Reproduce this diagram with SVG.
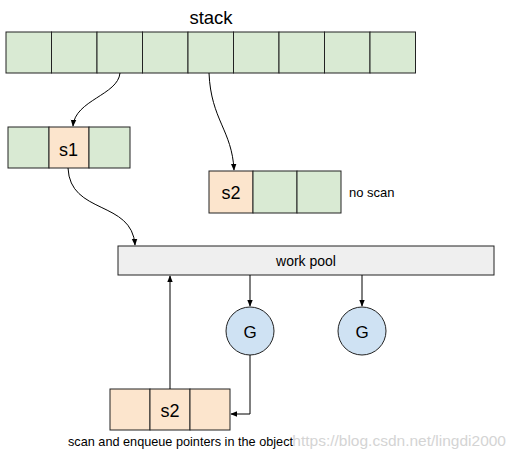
<svg xmlns="http://www.w3.org/2000/svg" width="515" height="453" viewBox="0 0 515 453">
<defs>
<style>
.g{fill:#d9ead3;stroke:#222;stroke-width:1}
.o{fill:#fce5cd;stroke:#222;stroke-width:1}
.c{fill:#cfe2f3;stroke:#222;stroke-width:1}
.p{fill:#efefef;stroke:#222;stroke-width:1}
.t{font-family:"Liberation Sans",Arial,sans-serif;fill:#000}
.e{fill:none;stroke:#000;stroke-width:1;marker-end:url(#a)}
</style>
<marker id="a" viewBox="0 0 10 10" refX="9" refY="5" markerWidth="7" markerHeight="7" orient="auto" markerUnits="userSpaceOnUse">
<path d="M0,1 L10,5 L0,9 z" fill="#000"/>
</marker>
</defs>
<rect width="515" height="453" fill="#fff"/>
<g id="stack">
<text class="t" x="211" y="24" font-size="18.5" text-anchor="middle">stack</text>
<rect class="g" x="6" y="32" width="45.5" height="41"/>
<rect class="g" x="51.5" y="32" width="45.5" height="41"/>
<rect class="g" x="97" y="32" width="45.5" height="41"/>
<rect class="g" x="142.5" y="32" width="45.5" height="41"/>
<rect class="g" x="188" y="32" width="45.5" height="41"/>
<rect class="g" x="233.5" y="32" width="45.5" height="41"/>
<rect class="g" x="279" y="32" width="45.5" height="41"/>
<rect class="g" x="324.5" y="32" width="45.5" height="41"/>
<rect class="g" x="370" y="32" width="45.5" height="41"/>
</g>
<g id="s1obj">
<rect class="g" x="8" y="127" width="41" height="41"/>
<rect class="o" x="49" y="127" width="40" height="41"/>
<rect class="g" x="89" y="127" width="41" height="41"/>
<text class="t" x="68.5" y="156" font-size="18" text-anchor="middle">s1</text>
</g>
<g id="s2obj">
<rect class="o" x="209" y="171" width="44" height="42"/>
<rect class="g" x="253" y="171" width="44" height="42"/>
<rect class="g" x="297" y="171" width="44" height="42"/>
<text class="t" x="231" y="199" font-size="18" text-anchor="middle">s2</text>
<text class="t" x="349" y="197" font-size="13">no scan</text>
</g>
<g id="workpool">
<rect class="p" x="118" y="246" width="376" height="29"/>
<text class="t" x="306" y="266" font-size="14" text-anchor="middle">work pool</text>
</g>
<g id="G1">
<circle class="c" cx="250" cy="331" r="24"/>
<text class="t" x="250" y="338" font-size="17" text-anchor="middle">G</text>
</g>
<g id="G2">
<circle class="c" cx="362" cy="331" r="24"/>
<text class="t" x="362" y="338" font-size="17" text-anchor="middle">G</text>
</g>
<g id="s2scan">
<rect class="o" x="110" y="389" width="40" height="41"/>
<rect class="o" x="150" y="389" width="40" height="41"/>
<rect class="o" x="190" y="389" width="40" height="41"/>
<text class="t" x="170" y="417" font-size="18" text-anchor="middle">s2</text>
<text class="t" x="68" y="446" font-size="12.7">scan and enqueue pointers in the object</text>
</g>
<g id="connectors">
<path class="e" d="M120,73 C118,95 75,100 73,126"/>
<path class="e" d="M209,73 C211,120 232,130 234,170"/>
<path class="e" d="M68,168 C70,215 132,200 135,245"/>
<path class="e" d="M250,275 L250,306"/>
<path class="e" d="M362,275 L362,306"/>
<path class="e" d="M250,355 L250,414 L231,414"/>
<path class="e" d="M170,389 L170,276"/>
</g>
<text x="506" y="446" font-family="'Liberation Sans',Arial,sans-serif" font-size="15.5" fill="#d4d4d4" text-anchor="end">https://blog.csdn.net/lingdi2000</text>
</svg>
